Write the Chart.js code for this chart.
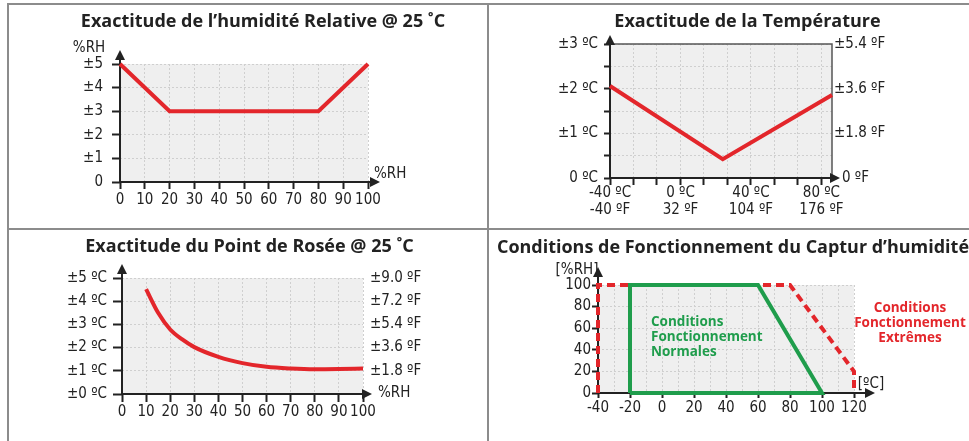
<!DOCTYPE html>
<html>
<head>
<meta charset="utf-8">
<script src="https://cdn.jsdelivr.net/npm/chart.js@4.4.1/dist/chart.umd.min.js"></script>
<style>
body{margin:0;background:#fff;width:969px;height:441px;overflow:hidden;position:relative;}
canvas{position:absolute;}
.ln{position:absolute;background:#8c8c8c;}
</style>
</head>
<body>
<canvas id="c1" width="478" height="223" style="left:9px;top:5px"></canvas>
<canvas id="c2" width="480" height="223" style="left:489px;top:5px"></canvas>
<canvas id="c3" width="478" height="211" style="left:9px;top:230px"></canvas>
<canvas id="c4" width="480" height="211" style="left:489px;top:230px"></canvas>
<div class="ln" style="left:7px;top:3px;width:962px;height:2px"></div>
<div class="ln" style="left:7px;top:3px;width:2px;height:438px"></div>
<div class="ln" style="left:487px;top:3px;width:2px;height:438px"></div>
<div class="ln" style="left:7px;top:228px;width:962px;height:2px"></div>
<script>
// --- data ---
// humidite relative
const rhX = [0, 20, 80, 100];
const rhY = [5, 3, 3, 5];
const rhYLabels = ['0', '±1', '±2', '±3', '±4', '±5'];

// temperature
const tempX = [-40, 24, 86];
const tempY = [2.06, 0.42, 1.86];
const tempMajor = [-40, 0, 40, 80];
const tempLabelsC = ['-40 ºC', '0 ºC', '40 ºC', '80 ºC'];
const tempLabelsF = ['-40 ºF', '32 ºF', '104 ºF', '176 ºF'];
const tempYLabelsC = ['0 ºC', '±1 ºC', '±2 ºC', '±3 ºC'];
const tempYLabelsF = ['', '±1.8 ºF', '±3.6 ºF', '±5.4 ºF'];

// point de rosee
const dewX = [10, 15, 20, 25, 30, 40, 50, 60, 70, 80, 90, 100];
const dewY = [4.52, 3.5, 2.78, 2.35, 2.02, 1.6, 1.33, 1.17, 1.1, 1.07, 1.08, 1.1];
const dewYLabelsC = ['±0 ºC', '±1 ºC', '±2 ºC', '±3 ºC', '±4 ºC', '±5 ºC'];
const dewYLabelsF = ['', '±1.8 ºF', '±3.6 ºF', '±5.4 ºF', '±7.2 ºF', '±9.0 ºF'];

// conditions de fonctionnement
const normX = [-20, -20, 60, 100, -20];
const normY = [0, 100, 100, 0, 0];
const extX = [-40, -40, 80, 120, 120];
const extY = [0, 100, 100, 20, 0];

const NARROW = "'Liberation Sans Narrow', 'DejaVu Sans Condensed', 'Liberation Sans', sans-serif";
const TITLEF = "'Open Sans', sans-serif";
const RED = '#e3262b';
const GREEN = '#1f9d4c';
const INK = '#222';

function pts(xs, ys) {
  return xs.map((x, i) => ({x: x, y: ys[i]}));
}

function grid(tl) {
  return {
    color: '#cfcfcf',
    lineWidth: 1,
    tickColor: INK,
    tickWidth: 2,
    tickLength: tl
  };
}

function arrowUp(ctx, x, y) {
  ctx.beginPath();
  ctx.moveTo(x, y);
  ctx.lineTo(x - 5, y + 10);
  ctx.lineTo(x + 5, y + 10);
  ctx.closePath();
  ctx.fill();
}
function arrowRight(ctx, x, y) {
  ctx.beginPath();
  ctx.moveTo(x, y);
  ctx.lineTo(x - 10, y - 5);
  ctx.lineTo(x - 10, y + 5);
  ctx.closePath();
  ctx.fill();
}

function deco(cfg) {
  return {
    id: 'deco',
    beforeDraw(chart) {
      const {ctx, chartArea: a} = chart;
      ctx.save();
      ctx.fillStyle = '#efefef';
      ctx.fillRect(a.left, a.top, a.right - a.left, a.bottom - a.top);
      ctx.restore();
    },
    beforeDatasetsDraw(chart) {
      const {ctx, chartArea: a} = chart;
      ctx.save();
      if (cfg.frame) {
        ctx.strokeStyle = cfg.frame;
        ctx.lineWidth = 1.5;
        ctx.beginPath();
        ctx.moveTo(a.left, a.top);
        ctx.lineTo(a.right, a.top);
        ctx.lineTo(a.right, a.bottom);
        ctx.stroke();
      }
      ctx.strokeStyle = INK;
      ctx.fillStyle = INK;
      ctx.lineWidth = 2;
      ctx.beginPath();
      ctx.moveTo(a.left, a.bottom);
      ctx.lineTo(a.left, a.top - cfg.up + 8);
      ctx.moveTo(a.left, a.bottom);
      ctx.lineTo(a.right + cfg.ext - 8, a.bottom);
      ctx.stroke();
      arrowUp(ctx, a.left, a.top - cfg.up);
      arrowRight(ctx, a.right + cfg.ext, a.bottom);
      ctx.restore();
    },
    afterDraw(chart) {
      const ctx = chart.ctx;
      ctx.save();
      ctx.textBaseline = 'middle';
      (cfg.texts || []).forEach(t => {
        ctx.font = t.font || ('15px ' + NARROW);
        ctx.fillStyle = t.color || INK;
        ctx.textAlign = t.align || 'left';
        ctx.fillText(t.t, t.x, t.y);
      });
      ctx.restore();
    }
  };
}

const tickFont = {family: NARROW, size: 15};
const titleFont = {family: TITLEF, size: 18, weight: '700'};
const boldF = "bold 13.5px " + TITLEF;

// ---------- 1 : humidite relative ----------
new Chart(document.getElementById('c1'), {
  type: 'line',
  data: {
    datasets: [{
      data: pts(rhX, rhY),
      borderColor: RED,
      borderWidth: 4,
      pointRadius: 0,
      fill: false,
      clip: 6
    }]
  },
  options: {
    responsive: false,
    animation: false,
    layout: {padding: {left: 30, right: 0, top: 0, bottom: 0}},
    plugins: {
      legend: {display: false},
      tooltip: {enabled: false},
      title: {
        display: true,
        text: 'Exactitude de l’humidité Relative @ 25 ˚C',
        color: INK,
        font: titleFont,
        padding: {top: 6.2, bottom: 31.2}
      }
    },
    scales: {
      x: {
        type: 'linear', min: 0, max: 100,
        ticks: {stepSize: 10, font: tickFont, color: INK, padding: 2, maxRotation: 0, autoSkip: false},
        grid: grid(7),
        border: {display: false, dash: [2, 2]},
        afterFit: s => { s.height = 46; }
      },
      y: {
        min: 0, max: 5,
        ticks: {stepSize: 1, font: tickFont, color: INK, padding: 9, callback: v => rhYLabels[v]},
        grid: grid(8),
        border: {display: false, dash: [2, 2]},
        afterFit: s => { s.width = 81; }
      },
      y2: {
        position: 'right', min: 0, max: 5,
        ticks: {display: false},
        grid: {display: false},
        border: {display: false},
        afterFit: s => { s.width = 119; }
      }
    }
  },
  plugins: [deco({up: 14, ext: 12, texts: [
    {t: '%RH', x: 80, y: 43, align: 'center'},
    {t: '%RH', x: 365, y: 169}
  ]})]
});

// ---------- 2 : temperature ----------
new Chart(document.getElementById('c2'), {
  type: 'line',
  data: {
    datasets: [{
      data: pts(tempX, tempY),
      borderColor: RED,
      borderWidth: 4,
      pointRadius: 0,
      fill: false,
      clip: 6
    }]
  },
  options: {
    responsive: false,
    animation: false,
    layout: {padding: {left: 37, right: 0, top: 0, bottom: 0}},
    plugins: {
      legend: {display: false},
      tooltip: {enabled: false},
      title: {
        display: true,
        text: 'Exactitude de la Température',
        color: INK,
        font: titleFont,
        padding: {top: 6.2, bottom: 11.2}
      }
    },
    scales: {
      x: {
        type: 'linear', min: -40, max: 86,
        afterBuildTicks: s => {
          const t = [];
          for (let k = 0; k < 10; k++) t.push({value: -40 + k * 40 / 3});
          s.ticks = t;
        },
        ticks: {
          font: {family: NARROW, size: 15, lineHeight: 1.13}, color: INK, padding: 0,
          maxRotation: 0, autoSkip: false,
          callback: v => {
            const i = tempMajor.findIndex(m => Math.abs(m - v) < 0.01);
            return i < 0 ? '' : [tempLabelsC[i], tempLabelsF[i]];
          }
        },
        grid: grid(7),
        border: {display: false, dash: [2, 2]},
        afterFit: s => { s.height = 50; }
      },
      y: {
        min: 0, max: 3,
        ticks: {stepSize: 0.5, font: tickFont, color: INK, padding: 6,
          callback: v => Number.isInteger(v) ? tempYLabelsC[v] : ''},
        grid: grid(6),
        border: {display: false, dash: [2, 2]},
        afterFit: s => { s.width = 84; }
      },
      y2: {
        position: 'right', min: 0, max: 3,
        ticks: {stepSize: 0.5, font: tickFont, color: INK, padding: 2,
          callback: v => Number.isInteger(v) ? tempYLabelsF[v] : ''},
        grid: {drawOnChartArea: false, drawTicks: false},
        border: {display: false},
        afterFit: s => { s.width = 137; }
      }
    }
  },
  plugins: [deco({up: 9, ext: 8, frame: '#555', texts: [
    {t: '0 ºF', x: 353, y: 173}
  ]})]
});

// ---------- 3 : point de rosee ----------
new Chart(document.getElementById('c3'), {
  type: 'line',
  data: {
    datasets: [{
      data: pts(dewX, dewY),
      borderColor: RED,
      borderWidth: 4,
      pointRadius: 0,
      fill: false,
      cubicInterpolationMode: 'monotone',
      clip: 6
    }]
  },
  options: {
    responsive: false,
    animation: false,
    layout: {padding: {left: 3, right: 0, top: 0, bottom: 0}},
    plugins: {
      legend: {display: false},
      tooltip: {enabled: false},
      title: {
        display: true,
        text: 'Exactitude du Point de Rosée @ 25 ˚C',
        color: INK,
        font: titleFont,
        padding: {top: 6.2, bottom: 20.2}
      }
    },
    scales: {
      x: {
        type: 'linear', min: 0, max: 100,
        ticks: {stepSize: 10, font: tickFont, color: INK, padding: 1, maxRotation: 0, autoSkip: false},
        grid: grid(8),
        border: {display: false, dash: [2, 2]},
        afterFit: s => { s.height = 47; }
      },
      y: {
        min: 0, max: 5,
        ticks: {stepSize: 1, font: tickFont, color: INK, padding: 6, callback: v => dewYLabelsC[v]},
        grid: grid(9),
        border: {display: false, dash: [2, 2]},
        afterFit: s => { s.width = 110; }
      },
      y2: {
        position: 'right', min: 0, max: 5,
        ticks: {stepSize: 1, font: tickFont, color: INK, padding: 7, callback: v => dewYLabelsF[v]},
        grid: {drawOnChartArea: false, drawTicks: false},
        border: {display: false},
        afterFit: s => { s.width = 124; }
      }
    }
  },
  plugins: [deco({up: 14, ext: 9, texts: [
    {t: '%RH', x: 369, y: 163}
  ]})]
});

// ---------- 4 : conditions de fonctionnement ----------
new Chart(document.getElementById('c4'), {
  type: 'line',
  data: {
    datasets: [{
      data: pts(normX, normY),
      borderColor: GREEN,
      borderWidth: 4,
      pointRadius: 0,
      fill: false,
      clip: 6
    }, {
      data: pts(extX, extY),
      borderColor: RED,
      borderWidth: 4,
      borderDash: [8, 5],
      pointRadius: 0,
      fill: false,
      clip: 6
    }]
  },
  options: {
    responsive: false,
    animation: false,
    layout: {padding: {left: 8, right: 0, top: 0, bottom: 0}},
    plugins: {
      legend: {display: false},
      tooltip: {enabled: false},
      title: {
        display: true,
        align: 'start',
        text: 'Conditions de Fonctionnement du Captur d’humidité',
        color: INK,
        font: titleFont,
        padding: {top: 7.2, bottom: 26.2}
      }
    },
    scales: {
      x: {
        type: 'linear', min: -40, max: 120,
        ticks: {stepSize: 10, font: tickFont, color: INK, padding: 1, maxRotation: 0, autoSkip: false,
          callback: v => v % 20 === 0 ? String(v) : ''},
        grid: {color: '#cfcfcf', lineWidth: 1, tickWidth: 2, tickLength: 5,
          tickColor: c => (c.tick && c.tick.value % 20 === 0) ? INK : 'rgba(0,0,0,0)'},
        border: {display: false, dash: [2, 2]},
        afterFit: s => { s.height = 48; }
      },
      y: {
        min: 0, max: 100,
        ticks: {stepSize: 10, font: tickFont, color: INK, padding: 1,
          callback: v => v % 20 === 0 ? String(v) : ''},
        grid: {color: '#cfcfcf', lineWidth: 1, tickWidth: 2, tickLength: 6,
          tickColor: c => (c.tick && c.tick.value % 20 === 0) ? INK : 'rgba(0,0,0,0)'},
        border: {display: false, dash: [2, 2]},
        afterFit: s => { s.width = 101; }
      },
      y2: {
        position: 'right', min: 0, max: 100,
        ticks: {display: false},
        grid: {display: false},
        border: {display: false},
        afterFit: s => { s.width = 115; }
      }
    }
  },
  plugins: [deco({up: 18, ext: 21, texts: [
    {t: '[%RH]', x: 88, y: 40, align: 'center'},
    {t: '[ºC]', x: 382, y: 154, align: 'center'},
    {t: 'Conditions', x: 162, y: 92, color: GREEN, font: boldF},
    {t: 'Fonctionnement', x: 162, y: 107, color: GREEN, font: boldF},
    {t: 'Normales', x: 162, y: 122, color: GREEN, font: boldF},
    {t: 'Conditions', x: 421, y: 78, color: RED, font: boldF, align: 'center'},
    {t: 'Fonctionnement', x: 421, y: 93, color: RED, font: boldF, align: 'center'},
    {t: 'Extrêmes', x: 421, y: 108, color: RED, font: boldF, align: 'center'}
  ]})]
});
</script>
</body>
</html>
